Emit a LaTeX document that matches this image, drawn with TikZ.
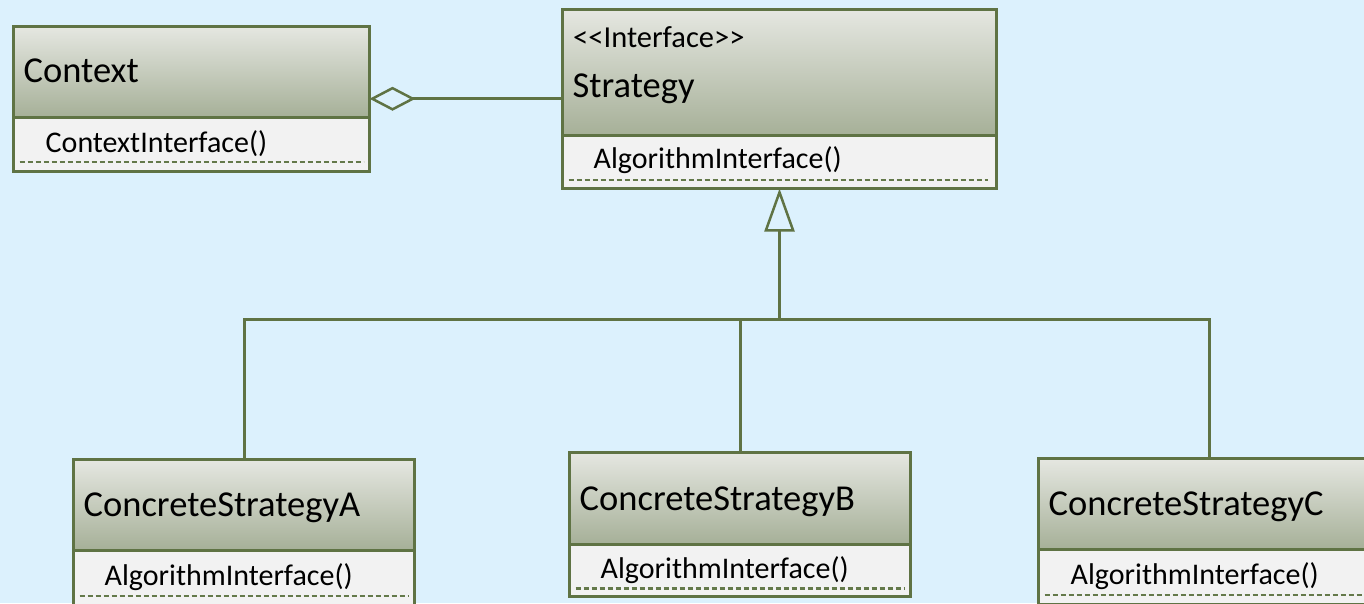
\documentclass[tikz,border=0pt]{standalone}
\usepackage{fontspec}
\setmainfont{Carlito}
\usepackage{xcolor}
\usetikzlibrary{arrows.meta, positioning, calc}

\definecolor{bgblue}{RGB}{220,241,253}
\definecolor{umlgreen}{RGB}{95,115,68}
\definecolor{dashgreen}{RGB}{100,121,74}
\definecolor{headtop}{RGB}{229,231,225}
\definecolor{headbot}{RGB}{166,176,152}
\definecolor{opgray}{RGB}{242,242,242}

\tikzset{
    head/.style={draw=umlgreen, line width=3pt, top color=headtop, bottom color=headbot, inner sep=0, outer sep=0, anchor=north west},
    body/.style={draw=umlgreen, line width=3pt, fill=opgray, inner sep=0, outer sep=0, minimum height=55pt},
    title/.style={anchor=base west, inner sep=0, font=\fontsize{36.5}{40}\selectfont},
    stereo/.style={anchor=base west, inner sep=0, font=\fontsize{30.5}{34}\selectfont},
    op/.style={anchor=base west, inner sep=0, font=\fontsize{30}{34}\selectfont},
    opline/.style={draw=dashgreen, line width=2.2pt, dash pattern=on 5pt off 3pt},
    link/.style={draw=umlgreen, line width=3pt}
}

\begin{document}
\begin{tikzpicture}[x=1pt, y=-1pt]
    \useasboundingbox (0,0) rectangle (1364,603);
    \clip (0,0) rectangle (1364,603);
    \fill[bgblue] (0,0) rectangle (1364,603);

    % classes
    \node[head, minimum width=356pt, minimum height=90.5pt] (ctxhead) at (13.5,26.5) {};
    \node[body, minimum width=356pt, minimum height=54.5pt, below=0pt of ctxhead] (ctxbody) {};
    \node[head, minimum width=434pt, minimum height=125.5pt] (strathead) at (562.5,9.5) {};
    \node[body, minimum width=434pt, minimum height=53.5pt, below=0pt of strathead] (stratbody) {};
    \node[head, minimum width=341pt, minimum height=90.5pt] (csahead) at (73.5,459.5) {};
    \node[body, minimum width=341pt, below=0pt of csahead] (csabody) {};
    \node[head, minimum width=341pt, minimum height=91.5pt] (csbhead) at (569.5,452.5) {};
    \node[body, minimum width=341pt, minimum height=52.5pt, below=0pt of csbhead] (csbbody) {};
    \node[head, minimum width=341pt, minimum height=90.5pt] (cschead) at (1038.5,458.5) {};
    \node[body, minimum width=341pt, below=0pt of cschead] (cscbody) {};

    % names
    \node[title] (ctxname) at ([xshift=10pt, yshift=-11pt]ctxhead.west) {Context};
    \node[stereo] (stratstereo) at ([xshift=10.5pt, yshift=-37.5pt]strathead.north west) {<\kern0pt<Interface>\kern0pt>};
    \node[title] (stratname) at ([xshift=10pt, yshift=-87.5pt]strathead.north west) {Strategy};
    \node[title] (csaname) at ([xshift=10pt, yshift=-12pt]csahead.west) {ConcreteStrategyA};
    \node[title] (csbname) at ([xshift=10pt, yshift=-12pt]csbhead.west) {ConcreteStrategyB};
    \node[title] (cscname) at ([xshift=10pt, yshift=-12pt]cschead.west) {ConcreteStrategyC};

    % operations
    \node[op] (ctxop) at ([xshift=32pt, yshift=-35pt]ctxbody.north west) {ContextInterface()};
    \node[op] (stratop) at ([xshift=31pt, yshift=-33pt]stratbody.north west) {AlgorithmInterface()};
    \node[op] (csaop) at ([xshift=31pt, yshift=-35pt]csabody.north west) {AlgorithmInterface()};
    \node[op] (csbop) at ([xshift=31pt, yshift=-34pt]csbbody.north west) {AlgorithmInterface()};
    \node[op] (cscop) at ([xshift=32pt, yshift=-35pt]cscbody.north west) {AlgorithmInterface()};
    \draw[opline] ([xshift=6pt, yshift=9.5pt]ctxbody.south west) -- ([xshift=-6pt, yshift=9.5pt]ctxbody.south east);
    \draw[opline] ([xshift=6pt, yshift=8.5pt]stratbody.south west) -- ([xshift=-9pt, yshift=8.5pt]stratbody.south east);
    \draw[opline] ([xshift=6pt, yshift=9pt]csabody.south west) -- ([xshift=-6pt, yshift=9pt]csabody.south east);
    \draw[opline] ([xshift=6pt, yshift=8pt]csbbody.south west) -- ([xshift=-6pt, yshift=8pt]csbbody.south east);
    \draw[opline] ([xshift=6pt, yshift=9pt]cscbody.south west) -- ([xshift=-6pt, yshift=9pt]cscbody.south east);

    % aggregation
    \draw[link, {Diamond[open, length=46pt, width=24pt, line width=2.5pt]}-] ([yshift=-27pt]ctxhead.east) -- ([yshift=-27pt]ctxhead.east -| strathead.west);

    % generalization
    \coordinate (bus) at (stratbody.south |- 0,319);
    \draw[link, -{Triangle[open, length=43pt, width=30pt, line width=2.5pt]}] (bus) -- (stratbody.south);
    \draw[link] (csahead.north) |- (bus) -| (cschead.north);
    \draw[link] (csbhead.north) -- (csbhead.north |- bus);
\end{tikzpicture}
\end{document}
